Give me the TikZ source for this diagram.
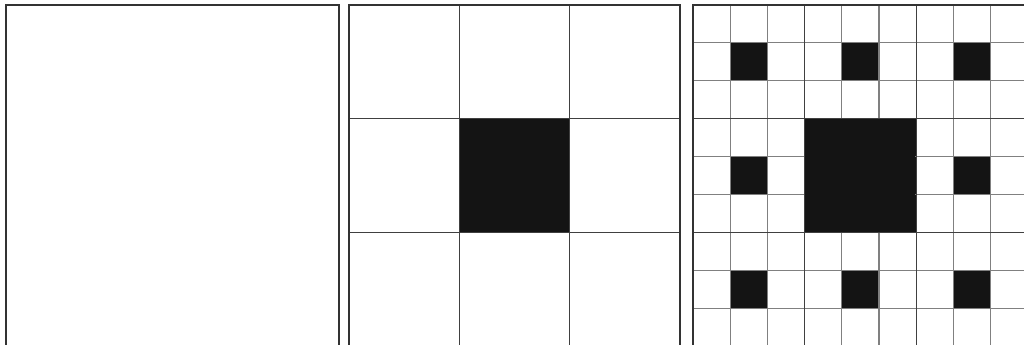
\documentclass[tikz,border=0pt]{standalone}
\usepackage{xcolor}
\usepackage{tikz}

\tikzset{
  outer/.style={draw=black!80, line width=1.5pt},
  major/.style={draw=black!75, line width=1.0pt},
  minor/.style={draw=black!50, line width=0.8pt},
  hole/.style={fill=black!92},
}

\begin{document}
\begin{tikzpicture}[x=0.75pt,y=-0.75pt]
  \useasboundingbox (0,0) rectangle (1024,344);
  \clip (0,0) rectangle (1024,344);

  % Etapa 0: cuadrado lleno
  \begin{scope}[shift={(6,5)}]
    \draw[outer] (0,0) rectangle (333,343);
  \end{scope}

  % Etapa 1: un hueco central
  \begin{scope}[shift={(349,5)}, xscale=110.33, yscale=113.7]
    \fill[hole] (1,1) rectangle (2,2);
    \foreach \k in {1,2} {
      \draw[major] (\k,0) -- (\k,3);
      \draw[major] (0,\k) -- (3,\k);
    }
    \draw[outer] (0,0) rectangle (3,3);
  \end{scope}

  % Etapa 2: hueco central y ocho huecos pequeños
  \begin{scope}[shift={(693,5)}, xscale=37.2, yscale=37.9]
    \fill[hole] (3,3) rectangle (6,6);
    \foreach \i in {0,1,2} {
      \foreach \j in {0,1,2} {
        \ifnum\i=1 \ifnum\j=1 \else
          \fill[hole] ({3*\i+1},{3*\j+1}) rectangle +(1,1);
        \fi \else
          \fill[hole] ({3*\i+1},{3*\j+1}) rectangle +(1,1);
        \fi
      }
    }
    \foreach \k in {1,2,4,5,7,8} {
      \draw[minor] (\k,0) -- (\k,9);
      \draw[minor] (0,\k) -- (9,\k);
    }
    \foreach \k in {3,6} {
      \draw[major] (\k,0) -- (\k,9);
      \draw[major] (0,\k) -- (9,\k);
    }
    \fill[hole] (3.02,3.02) rectangle (5.98,5.98);
    \draw[outer] (0,0) rectangle (9,9);
  \end{scope}
\end{tikzpicture}
\end{document}
